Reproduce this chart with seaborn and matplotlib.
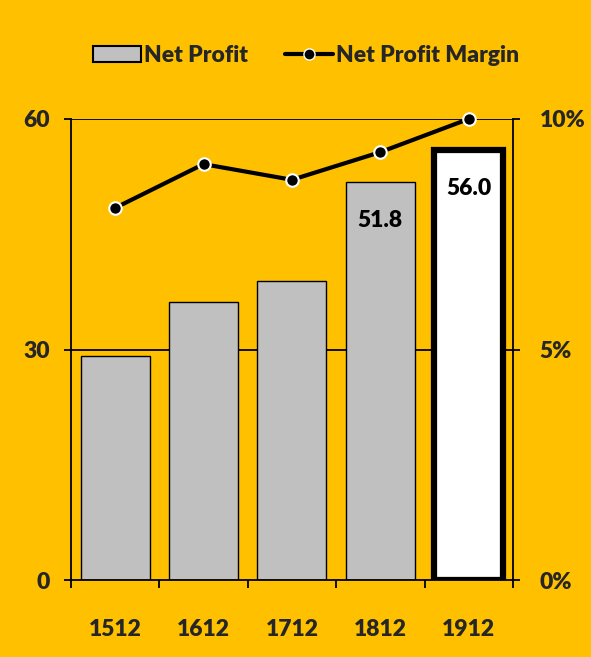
import numpy as np
import pandas as pd
import matplotlib
matplotlib.use("Agg")
import matplotlib.pyplot as plt
import seaborn as sns
from matplotlib.patches import Patch
from matplotlib.lines import Line2D
from matplotlib.ticker import FuncFormatter

# Chart data
years = ["1512", "1612", "1712", "1812", "1912"]
net_profit = [29.2, 36.2, 38.9, 51.8, 56.0]
net_profit_margin = [8.07, 9.02, 8.68, 9.28, 10.0]  # percent
labelled = {3: "51.8", 4: "56.0"}

BG = "#FFC000"
GREY = "#C0C0C0"
FS = 16.5
WEIGHT = "heavy"

sns.set_theme(style="white")
plt.rcParams["font.family"] = ["Lato", "DejaVu Sans"]
plt.rcParams["font.weight"] = WEIGHT

df = pd.DataFrame({"year": years, "profit": net_profit, "margin": net_profit_margin})

fig = plt.figure(figsize=(5.91, 6.57), dpi=100, facecolor=BG)
ax = fig.add_axes([0.120, 0.117, 0.748, 0.702])
ax.set_facecolor(BG)

sns.barplot(data=df, x="year", y="profit", ax=ax, color=GREY, width=0.78,
            edgecolor="black", linewidth=1.0, saturation=1)
# highlight the last bar
last = ax.patches[-1]
last.set_facecolor("white")
last.set_linewidth(4.5)

for i, txt in labelled.items():
    ax.text(i, net_profit[i] - 5.0, txt, ha="center", va="center",
            fontsize=FS, fontweight=WEIGHT, color="black")

ax.set_xlim(-0.5, 4.5)
ax.set_ylim(0, 60)
ax.set_yticks([0, 30, 60])
ax.set_xlabel("")
ax.set_ylabel("")
for y in [30, 60]:
    ax.axhline(y, color="black", lw=1.3, zorder=0.5)
ax.set_axisbelow(True)

# minor ticks at category boundaries, major labels at centres
ax.set_xticks(np.arange(-0.5, 5.0, 1.0), minor=True)
ax.tick_params(axis="x", which="major", bottom=True, length=0, pad=28, labelsize=FS)
ax.tick_params(axis="x", which="minor", bottom=True, length=5.5, width=1.3, color="black", direction="out")
ax.tick_params(axis="y", left=True, length=5, width=1.3, color="black", direction="out", labelsize=FS, pad=10)
for lab in ax.get_xticklabels() + ax.get_yticklabels():
    lab.set_fontweight(WEIGHT)

for side in ["left", "bottom", "right"]:
    ax.spines[side].set_color("black")
    ax.spines[side].set_linewidth(1.3)
ax.spines["top"].set_visible(False)

ax2 = ax.twinx()
sns.lineplot(x=np.arange(len(years)), y=net_profit_margin, ax=ax2, color="black",
             lw=3, marker="o", markersize=9, markerfacecolor="black",
             markeredgecolor="white", markeredgewidth=1.5, clip_on=False, zorder=5)
ax2.set_ylim(0, 10)
ax2.set_yticks([0, 5, 10])
ax2.yaxis.set_major_formatter(FuncFormatter(lambda v, p: f"{v:.0f}%"))
ax2.tick_params(axis="y", right=True, length=5, width=1.3, color="black", direction="out",
                labelsize=FS, pad=14)
for lab in ax2.get_yticklabels():
    lab.set_fontweight(WEIGHT)
for s in ax2.spines.values():
    s.set_visible(False)
ax2.grid(False)

handles = [
    Patch(facecolor=GREY, edgecolor="black", linewidth=1.5, label="Net Profit"),
    Line2D([0], [0], color="black", lw=3, marker="o", markersize=8,
           markerfacecolor="black", markeredgecolor="white", label="Net Profit Margin"),
]
fig.legend(handles=handles, loc="center", bbox_to_anchor=(0.518, 0.916), ncol=2,
           frameon=False, prop={"weight": WEIGHT, "size": FS},
           handlelength=2.1, handletextpad=0.15, columnspacing=1.6)

fig.savefig("out.png", dpi=100, facecolor=BG)
